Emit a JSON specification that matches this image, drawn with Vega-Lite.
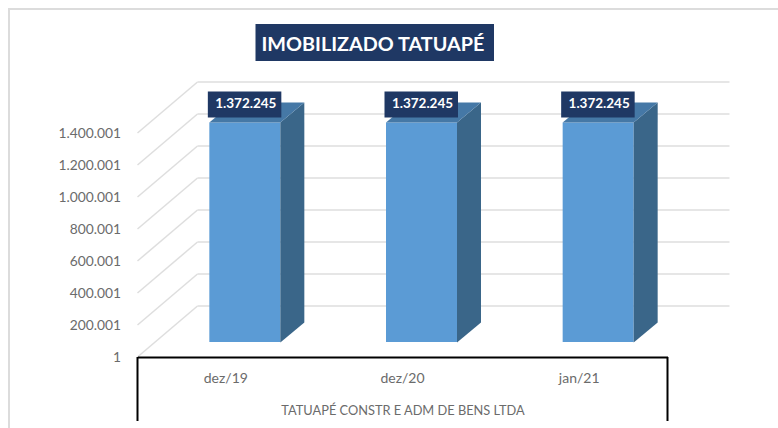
{
  "$schema": "https://vega.github.io/schema/vega-lite/v6.json",
  "width": 530,
  "height": 224,
  "autosize": {"type": "none"},
  "padding": {"left": 137.5, "top": 133, "right": 110.5, "bottom": 71},
  "background": "white",
  "view": {"stroke": null},
  "title": {"text": "IMOBILIZADO TATUAPÉ", "anchor": "start", "frame": "group", "dx": 124, "offset": -50, "font": "Lato", "fontSize": 19.8, "fontWeight": "bold", "color": "white", "zindex": 2},
  "datasets": {
    "barras": [
      {"periodo": "dez/19", "valor": 1372245, "rotulo": "1.372.245"},
      {"periodo": "dez/20", "valor": 1372245, "rotulo": "1.372.245"},
      {"periodo": "jan/21", "valor": 1372245, "rotulo": "1.372.245"}
    ],
    "grade": [{"v": 1}, {"v": 200001}, {"v": 400001}, {"v": 600001}, {"v": 800001}, {"v": 1000001}, {"v": 1200001}, {"v": 1400001}]
  },
  "data": {"name": "barras"},
  "encoding": {
    "x": {"field": "periodo", "type": "nominal", "sort": null,
      "scale": {"paddingInner": 0, "paddingOuter": 0},
      "axis": {"title": "TATUAPÉ CONSTR E ADM DE BENS LTDA", "titleFont": "Lato", "titleFontSize": 12.8, "titleFontWeight": "normal", "titleColor": "#6b6b6b", "titlePadding": 19, "labelFont": "Lato", "labelFontSize": 14, "labelColor": "#6b6b6b", "labelAngle": 0, "labelPadding": 14, "ticks": false, "domainColor": "#000000", "domainWidth": 2, "grid": false, "zindex": 1}},
    "y": {"type": "quantitative"}
  },
  "layer": [
    {
      "data": {"values": [{"v": 1400001}]},
      "mark": {"type": "point", "filled": false, "size": 4, "opacity": 1, "stroke": "#dcdcdc", "strokeWidth": 2, "shape": "M-128.5,295V-124H641"},
      "encoding": {"x": {"value": 0}, "y": {"field": "v", "type": "quantitative"}}
    },
    {
      "data": {"name": "grade"},
      "mark": {"type": "rule", "color": "#dedede", "strokeWidth": 1.5, "xOffset": 60, "x2Offset": 62, "yOffset": -51},
      "encoding": {
        "x": {"value": 0}, "x2": {"value": 530},
        "y": {"field": "v", "type": "quantitative",
          "scale": {"domain": [1, 1400001], "nice": false, "zero": false},
          "axis": {"title": null, "values": [1, 200001, 400001, 600001, 800001, 1000001, 1200001, 1400001], "tickCount": 8, "labelExpr": "replace(format(datum.value, ','), /,/g, '.')", "labelOverlap": false, "labelFont": "Lato", "labelFontSize": 13.8, "labelColor": "#6b6b6b", "labelPadding": 17, "ticks": false, "domain": false, "grid": false}}
      }
    },
    {
      "data": {"name": "grade"},
      "mark": {"type": "point", "filled": false, "size": 4, "shape": "M0,0L60,-51", "stroke": "#dedede", "strokeWidth": 1.5, "opacity": 1},
      "encoding": {"x": {"value": 0}, "y": {"field": "v", "type": "quantitative"}}
    },
    {
      "mark": {"type": "bar", "size": 71, "color": "#5b9bd5", "xOffset": 19, "yOffset": -15, "y2Offset": -15},
      "encoding": {"y": {"field": "valor", "type": "quantitative"}, "y2": {"datum": 1}}
    },
    {
      "mark": {"type": "point", "filled": true, "size": 4, "opacity": 1, "color": "#3a6689", "xOffset": 19, "yOffset": -15, "shape": "M35.5,0L59.5,-20L59.5,200L35.5,220Z"},
      "encoding": {"y": {"field": "valor", "type": "quantitative"}}
    },
    {
      "mark": {"type": "point", "filled": true, "size": 4, "opacity": 1, "color": "#4578a6", "xOffset": 19, "yOffset": -15, "shape": "M-35.5,0L35.5,0L59.5,-20L-11.5,-20Z"},
      "encoding": {"y": {"field": "valor", "type": "quantitative"}}
    },
    {
      "mark": {"type": "point", "filled": true, "size": 4, "opacity": 1, "color": "#1f3864", "xOffset": 19, "yOffset": -33, "shape": "M-37,-13L36.5,-13L36.5,13L-37,13Z"},
      "encoding": {"y": {"field": "valor", "type": "quantitative"}}
    },
    {
      "mark": {"type": "text", "color": "white", "font": "Lato", "fontWeight": "bold", "fontSize": 13.5, "xOffset": 20, "yOffset": -33, "align": "center", "baseline": "middle"},
      "encoding": {"y": {"field": "valor", "type": "quantitative"}, "text": {"field": "rotulo"}}
    },
    {
      "data": {"values": [{"v": 1}]},
      "mark": {"type": "point", "filled": false, "size": 4, "opacity": 1, "stroke": "#000000", "strokeWidth": 2, "shape": "M0,0V64M530,0V64"},
      "encoding": {"x": {"value": 0}, "y": {"field": "v", "type": "quantitative"}}
    },
    {
      "data": {"values": [{"v": 1400001}]},
      "mark": {"type": "point", "filled": true, "size": 4, "opacity": 1, "color": "#1f3864", "shape": "M118,-109H356.5V-72H118Z"},
      "encoding": {"x": {"value": 0}, "y": {"field": "v", "type": "quantitative"}}
    }
  ]
}
